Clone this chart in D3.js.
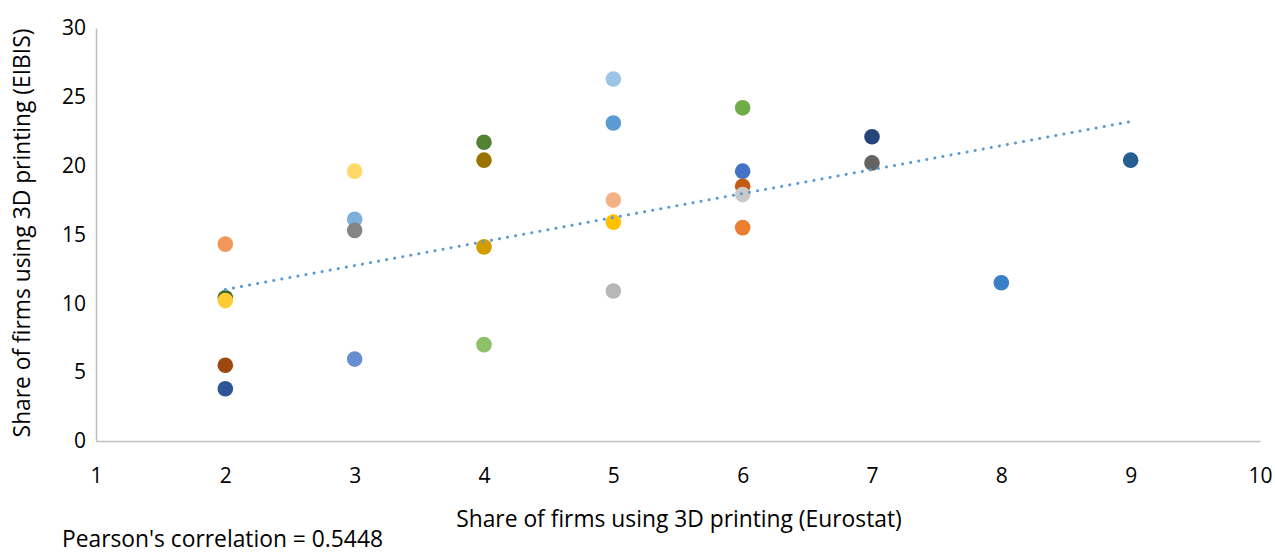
<!DOCTYPE html>
<html><head><meta charset="utf-8">
<script src="https://cdn.jsdelivr.net/npm/d3@7"></script>
<style>
body{margin:0;background:#fff;}
text{font-family:"Open Sans","Noto Sans",sans-serif;fill:#000;}
</style></head>
<body><svg id="c" width="1275" height="554"></svg>
<script>
// Data: each point is one country (x = Eurostat share, y = EIBIS share)
const xValues = [2, 2, 2, 2, 2, 3, 3, 3, 3, 4, 4, 4, 4, 5, 5, 5, 5, 5, 6, 6, 6, 6, 6, 7, 7, 8, 9];
const yValues = [14.3, 10.4, 10.2, 5.5, 3.8, 19.6, 16.1, 15.3, 5.95, 21.7, 20.4, 14.1, 7.0, 26.3, 23.1, 17.5, 15.9, 10.9, 24.2, 19.6, 18.5, 17.9, 15.5, 22.1, 20.2, 11.5, 20.4];
const pointColors = ["#F1975A", "#43682B", "#FFCD33", "#9E480E", "#2F5597", "#FFD966", "#7CAFDD", "#848484", "#698ED0", "#548235", "#997300", "#D29D00", "#8CC168", "#9DC3E6", "#5B9BD5", "#F4B183", "#FFC000", "#B7B7B7", "#70AD47", "#4472C4", "#C55A11", "#C9C9C9", "#ED7D31", "#264478", "#636363", "#3A80C6", "#255E91"];
// Linear trendline endpoints
const trendX = [2, 9];
const trendY = [11.0, 23.2];
const xTicks = [1, 2, 3, 4, 5, 6, 7, 8, 9, 10];
const yTicks = [0, 5, 10, 15, 20, 25, 30];
const xTitle = "Share of firms using 3D printing (Eurostat)";
const yTitle = "Share of firms using 3D printing (EIBIS)";
const note = "Pearson's correlation = 0.5448";

const FONT = '"Open Sans","Noto Sans",sans-serif';
const svg = d3.select("#c");
const x = d3.scaleLinear().domain([1, 10]).range([96, 1260]);
const y = d3.scaleLinear().domain([0, 30]).range([441, 28]);

// axes
const xAxis = svg.append("g").attr("transform", `translate(0,${y(0)})`)
  .call(d3.axisBottom(x).tickValues(xTicks).tickSize(0).tickPadding(27).tickFormat(d3.format("d")));
const yAxis = svg.append("g").attr("transform", `translate(${x(1)},0)`)
  .call(d3.axisLeft(y).tickValues(yTicks).tickSize(0).tickPadding(10).tickFormat(d3.format("d")));
[xAxis, yAxis].forEach(g => {
  g.select(".domain").attr("stroke", "#bfbfbf").attr("stroke-width", 1.5);
  g.selectAll("text").style("font-family", FONT).style("font-size", "21px").attr("fill", "#000");
});

// points
const pts = xValues.map((v, i) => ({x: v, y: yValues[i], c: pointColors[i]}));
svg.append("g").selectAll("circle").data(pts).join("circle")
  .attr("cx", d => x(d.x)).attr("cy", d => y(d.y)).attr("r", 7.8)
  .attr("fill", d => d.c);

// linear trendline
svg.append("path")
  .attr("d", d3.line().x(d => x(d[0])).y(d => y(d[1]))(trendX.map((v, i) => [v, trendY[i]])))
  .attr("fill", "none")
  .attr("stroke", "#5B9BD5").attr("stroke-width", 3).attr("stroke-linecap", "round")
  .attr("stroke-dasharray", "0.1 8.1");

// titles
svg.append("text").attr("x", 679).attr("y", 527).attr("text-anchor", "middle").style("font-size", "22.8px").text(xTitle);
svg.append("text").attr("transform", `translate(30,233) rotate(-90)`).attr("text-anchor", "middle").style("font-size", "22.8px").text(yTitle);
svg.append("text").attr("x", 62).attr("y", 547).style("font-size", "22.8px").text(note);
</script></body></html>
